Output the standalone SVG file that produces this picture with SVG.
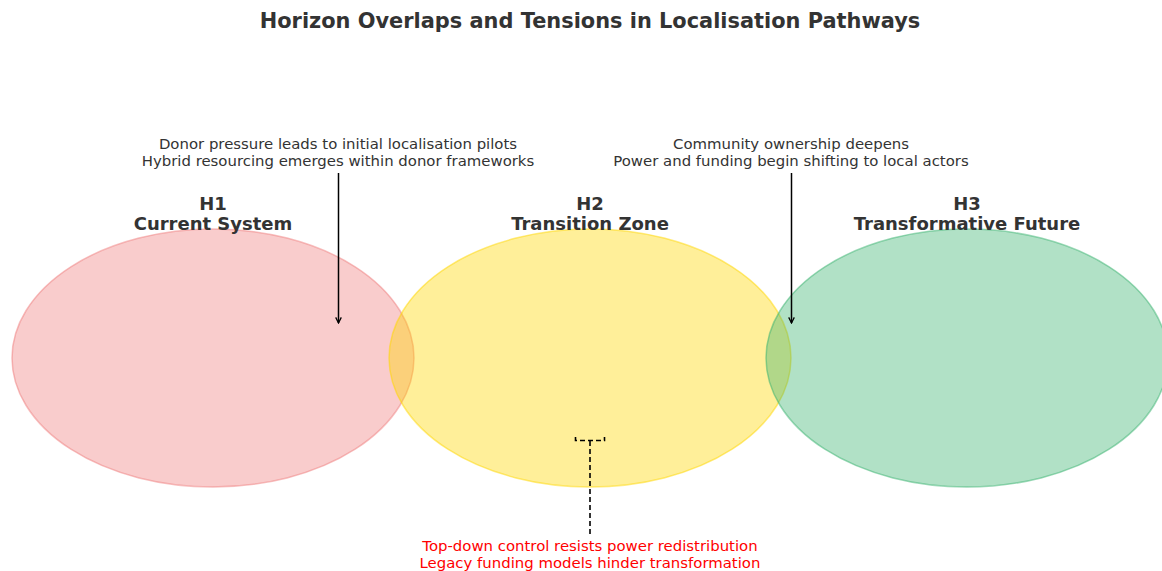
<svg xmlns="http://www.w3.org/2000/svg" width="1162" height="571" viewBox="0 0 1162 571">
  <style>
    text { font-family: "DejaVu Sans", sans-serif; fill: #333333; text-anchor: middle; }
    .title { font-size: 20.9px; font-weight: bold; }
    .label { font-size: 18px; font-weight: bold; }
    .note { font-size: 14.9px; }
    .tension { font-size: 14.9px; fill: #ff0000; }
    .arrow { stroke: #000000; stroke-width: 1.5; fill: none; marker-end: url(#head); }
    .dash { stroke: #000000; stroke-width: 1.6; fill: none; stroke-dasharray: 5 3; }
  </style>
  <defs>
    <marker id="head" viewBox="0 0 10 10" refX="9" refY="5" markerWidth="7" markerHeight="7" markerUnits="userSpaceOnUse" orient="auto">
      <path d="M1,1 L9,5 L1,9" fill="none" stroke="#000000" stroke-width="1.8"/>
    </marker>
  </defs>
  <rect width="1162" height="571" fill="#ffffff"/>

  <text class="title" x="590" y="28">Horizon Overlaps and Tensions in Localisation Pathways</text>

  <g id="h1">
    <ellipse cx="213" cy="358" rx="201" ry="129" fill="#f08080" fill-opacity="0.4" stroke="#f08080" stroke-opacity="0.5" stroke-width="1.5"/>
    <text class="label" x="213" y="210">H1</text>
    <text class="label" x="213" y="230">Current System</text>
  </g>
  <g id="h2">
    <ellipse cx="590" cy="358" rx="201" ry="129" fill="#ffd700" fill-opacity="0.4" stroke="#ffd700" stroke-opacity="0.5" stroke-width="1.5"/>
    <text class="label" x="590" y="210">H2</text>
    <text class="label" x="590" y="230">Transition Zone</text>
  </g>
  <g id="h3">
    <ellipse cx="967" cy="358" rx="201" ry="129" fill="#3cb371" fill-opacity="0.4" stroke="#3cb371" stroke-opacity="0.5" stroke-width="1.5"/>
    <text class="label" x="967" y="210">H3</text>
    <text class="label" x="967" y="230">Transformative Future</text>
  </g>

  <g id="notes">
    <text class="note" x="338" y="149">Donor pressure leads to initial localisation pilots</text>
    <text class="note" x="338" y="166">Hybrid resourcing emerges within donor frameworks</text>
    <text class="note" x="791" y="149">Community ownership deepens</text>
    <text class="note" x="791" y="166">Power and funding begin shifting to local actors</text>
    <text class="tension" x="590" y="551">Top-down control resists power redistribution</text>
    <text class="tension" x="590" y="568">Legacy funding models hinder transformation</text>
  </g>

  <g id="connectors">
    <line class="arrow" x1="338.5" y1="173" x2="338.5" y2="323"/>
    <line class="arrow" x1="791.5" y1="173" x2="791.5" y2="323"/>
    <path class="dash" d="M575.5,437 V440.5 H604.5 V437"/>
    <line class="dash" x1="590" y1="441" x2="590" y2="535"/>
  </g>
</svg>
